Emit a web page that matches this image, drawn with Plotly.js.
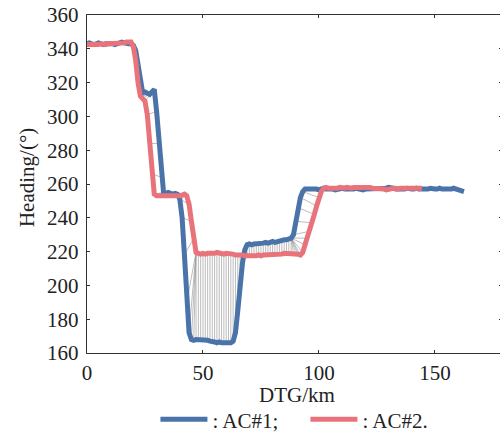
<!DOCTYPE html>
<html>
<head>
<meta charset="utf-8">
<script src="https://cdn.plot.ly/plotly-3.0.1.min.js"></script>
<style>
html,body{margin:0;padding:0;overflow:hidden;background:#fff;width:500px;height:434px;}
#chart{width:503px;height:434px;}
</style>
</head>
<body>
<div id="chart"></div>
<script>
// ---- Data (DTG in km, heading in degrees) ----
const dtgAC1 = [
  0,1,2,3,4,5,6,7,8,9,
  10,11,12,13,14,15,16,17,18,19,
  20,21,22,23,24,25,26,27,28,29,
  30,31,32,33,34,35,36,37,38,39,
  40,41,42,43,44,45,46,47,48,49,
  50,51,52,53,54,55,56,57,58,59,
  60,61,62,63,64,65,66,67,68,69,
  70,71,72,73,74,75,76,77,78,79,
  80,81,82,83,84,85,86,87,88,89,
  90,91,92,93,94,95,96,97,98,99,
  100,101,102,103,104,105,106,107,108,109,
  110,111,112,113,114,115,116,117,118,119,
  120,121,122,123,124,125,126,127,128,129,
  130,131,132,133,134,135,136,137,138,139,
  140,141,142,143,144,145,146,147,148,149,
  150,151,152,153,154,155,156,157,158,159,
  160,161,162.5
];
const headingAC1 = [
  343,343.5,343,342.5,343,343.5,343,342.5,343,343,
  343.5,343,342.5,343,343.5,344,343.5,343,343,343,
  342,339,330,319,314,314.5,314,313,314.5,316,
  303,284,264,255,254.5,255,254.5,254,254.5,254,
  251,240,218,190,172,168,167.5,168,168,167.5,
  167.5,168,167.5,167,167,166.5,166,166.5,166,166,
  166.5,166,166,167,172,185,200,213,221,224,
  224.5,224,224.5,224.5,225,224.5,225,225.5,225,225.5,
  226,225.5,226,226.5,226.5,227,227,227.5,228,230,
  238,246,252,255.5,257,257,257,257.5,257,257,
  256.5,257,257.5,257,257,257.5,257,256.5,257,257,
  257.5,257,257,256.5,257,257,257.5,257,257,256.5,
  257,257,257.5,257,257,257,257.5,257,257,257.5,
  258,258,257.5,257,257,256.5,257,257,257.5,257,
  257,257,257.5,257,257,256.5,257,257,257.5,257,
  257,257,257.5,257,257,257,256.5,257,257.5,257,
  257,256.5,255.5
];
const dtgAC2 = [
  0,1,2,3,4,5,6,7,8,9,
  10,11,12,13,14,15,16,17,18,19,
  20,21,22,23,24,25,26,27,28,29,
  30,31,32,33,34,35,36,37,38,39,
  40,41,42,43,44,45,46,47,48,49,
  50,51,52,53,54,55,56,57,58,59,
  60,61,62,63,64,65,66,67,68,69,
  70,71,72,73,74,75,76,77,78,79,
  80,81,82,83,84,85,86,87,88,89,
  90,91,92,93,94,95,96,97,98,99,
  100,101,102,103,104,105,106,107,108,109,
  110,111,112,113,114,115,116,117,118,119,
  120,121,122,123,124,125,126,127,128,129,
  130,131,132,133,134,135,136,137,138,139,
  140,141,142,143,144.4
];
const headingAC2 = [
  342.5,342.5,342.5,342,342.5,342.5,343,342.5,342.5,343,
  343,343,343,343.5,343,343.5,343.5,344,344,344,
  341,333,320,312,310.5,309,301,284,266,254,
  253,253,253,252.5,253,253,252.5,253,253,253,
  253,253.5,254,253,248,238,228,219.5,219,218.5,
  219,218.5,219,219,218.5,219,219.5,219,219,218.5,
  219,219,218.5,218.5,218,218,218.5,218,217.5,217.5,
  217.5,217,217.5,217.5,218,217.5,218,218,218,218.5,
  218,218.5,218.5,218,218.5,219,219,218.5,219,219,
  219,218.5,218,219.5,224,228,232,237,242,247,
  252,255.5,257.5,258,257.5,257.5,257,257.5,257.5,258,
  257.5,257.5,258,257.5,257.5,258,258,258,258.5,258.5,
  258.5,258,258,257.5,257.5,257,257,257.5,257,256.5,
  257,257,257.5,257.5,257,257.5,257.5,257,257.5,257.5,
  257.5,257,257.5,257.5,257.5
];
const seriesNames = [': AC#1;', ': AC#2.'];
const xTicks = [0, 50, 100, 150];
const yTicks = [160, 180, 200, 220, 240, 260, 280, 300, 320, 340, 360];
const xTitle = 'DTG/km';
const yTitle = 'Heading/(°)';

// ---- Dynamic time warping alignment between the two tracks (gray links) ----
function dtwPairs(xa, a, xb, b, lambda) {
  const n = a.length, m = b.length;
  const D = [];
  for (let i = 0; i < n; i++) {
    D.push(new Float64Array(m));
    for (let j = 0; j < m; j++) {
      const c = Math.abs(a[i] - b[j]) + lambda * Math.abs(xa[i] - xb[j]);
      let best;
      if (i === 0 && j === 0) best = 0;
      else if (i === 0) best = D[i][j - 1];
      else if (j === 0) best = D[i - 1][j];
      else best = Math.min(D[i - 1][j], D[i][j - 1], D[i - 1][j - 1]);
      D[i][j] = c + best;
    }
  }
  const pairs = [];
  let i = n - 1, j = m - 1;
  pairs.push([i, j]);
  while (i > 0 || j > 0) {
    if (i === 0) j--;
    else if (j === 0) i--;
    else {
      const d = D[i - 1][j - 1], u = D[i - 1][j], l = D[i][j - 1];
      if (d <= u && d <= l) { i--; j--; }
      else if (u <= l) i--;
      else j--;
    }
    pairs.push([i, j]);
  }
  return pairs;
}
const pairs = dtwPairs(dtgAC1, headingAC1, dtgAC2, headingAC2, 1.5);
const linkX = [], linkY = [];
pairs.forEach(([i, j]) => {
  linkX.push(dtgAC1[i], dtgAC2[j], null);
  linkY.push(headingAC1[i], headingAC2[j], null);
});

const serif = 'Liberation Serif, Times New Roman, serif';
const traces = [
  {x: linkX, y: linkY, mode: 'lines', line: {color: 'rgba(150,150,150,0.8)', width: 0.8},
   hoverinfo: 'skip', showlegend: false},
  {x: dtgAC1, y: headingAC1, mode: 'lines', name: seriesNames[0],
   line: {color: '#4a73a9', width: 5}},
  {x: dtgAC2, y: headingAC2, mode: 'lines', name: seriesNames[1],
   line: {color: '#e8737b', width: 5}}
];

const axisCommon = {
  showgrid: false, zeroline: false, showline: true, linecolor: '#333', linewidth: 1.3,
  mirror: 'ticks', ticks: 'inside', ticklen: 3, tickwidth: 1, tickcolor: '#333',
  tickfont: {family: serif, size: 21, color: '#222'}, automargin: false
};

const layout = {
  width: 503, height: 434,
  margin: {l: 87, r: 1, t: 15, b: 81},
  paper_bgcolor: '#fff', plot_bgcolor: '#fff',
  font: {family: serif, size: 21, color: '#222'},
  xaxis: Object.assign({}, axisCommon, {
    range: [0, 178.9], tickvals: xTicks, ticktext: xTicks.map(String)
  }),
  yaxis: Object.assign({}, axisCommon, {
    range: [160, 360], tickvals: yTicks, ticktext: yTicks.map(String),
    ticklabelstandoff: 3
  }),
  annotations: [
    {text: yTitle, textangle: -90, xref: 'paper', yref: 'paper',
     x: -0.145, y: 0.52, xanchor: 'center', yanchor: 'middle', showarrow: false,
     font: {family: serif, size: 21, color: '#222'}},
    {text: xTitle, xref: 'paper', yref: 'paper',
     x: 0.506, y: -0.124, xanchor: 'center', yanchor: 'middle', showarrow: false,
     font: {family: serif, size: 21, color: '#222'}}
  ],
  legend: {
    orientation: 'h', xref: 'container', yref: 'container',
    x: 0.309, xanchor: 'left', y: 0.033, yanchor: 'middle',
    font: {family: serif, size: 21, color: '#222'}, bgcolor: 'rgba(0,0,0,0)',
    itemwidth: 47, entrywidth: 88, entrywidthmode: 'pixels'
  },
  showlegend: true
};

Plotly.newPlot('chart', traces, layout, {displayModeBar: false, staticPlot: true});
</script>
</body>
</html>
